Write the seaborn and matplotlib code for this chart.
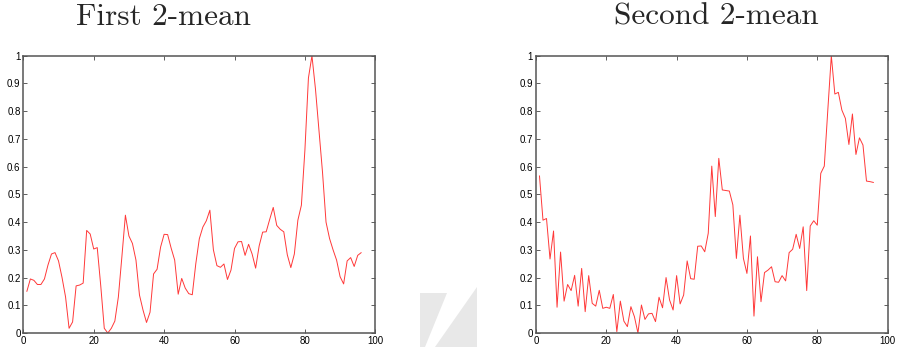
import matplotlib
matplotlib.use('Agg')
import matplotlib.pyplot as plt
from matplotlib.patches import Polygon
import seaborn as sns
import numpy as np

# sample index on the x axis
idx = np.arange(1, 97)

# first 2-mean curve
first_vals = [0.15, 0.195, 0.19, 0.175, 0.175, 0.195, 0.245, 0.285, 0.29, 0.26,
              0.2, 0.13, 0.017, 0.04, 0.17, 0.173, 0.18, 0.37, 0.357, 0.303,
              0.308, 0.17, 0.017, 0.0, 0.017, 0.043, 0.13, 0.275, 0.425, 0.35,
              0.323, 0.263, 0.137, 0.083, 0.038, 0.075, 0.213, 0.23, 0.31, 0.356,
              0.355, 0.306, 0.263, 0.14, 0.197, 0.162, 0.142, 0.138, 0.25, 0.34,
              0.382, 0.405, 0.443, 0.30, 0.243, 0.237, 0.249, 0.193, 0.227, 0.305,
              0.329, 0.33, 0.28, 0.32, 0.285, 0.234, 0.314, 0.364, 0.365, 0.41,
              0.453, 0.388, 0.374, 0.365, 0.282, 0.236, 0.285, 0.407, 0.461, 0.66,
              0.92, 1.0, 0.88, 0.73, 0.58, 0.40, 0.341, 0.30, 0.263, 0.203,
              0.177, 0.26, 0.272, 0.24, 0.28, 0.29]

# second 2-mean curve
second_vals = [0.567, 0.407, 0.413, 0.267, 0.368, 0.093, 0.292, 0.115, 0.175, 0.153,
               0.208, 0.097, 0.233, 0.077, 0.207, 0.107, 0.097, 0.154, 0.089, 0.093,
               0.089, 0.139, 0.005, 0.115, 0.043, 0.023, 0.095, 0.059, 0.0, 0.101,
               0.049, 0.069, 0.071, 0.041, 0.129, 0.091, 0.2, 0.119, 0.083, 0.207,
               0.105, 0.137, 0.26, 0.196, 0.194, 0.313, 0.314, 0.293, 0.36, 0.602,
               0.42, 0.63, 0.516, 0.514, 0.512, 0.462, 0.269, 0.425, 0.269, 0.215,
               0.35, 0.061, 0.275, 0.113, 0.218, 0.227, 0.239, 0.185, 0.183, 0.207,
               0.188, 0.29, 0.302, 0.356, 0.305, 0.383, 0.153, 0.386, 0.405, 0.389,
               0.576, 0.602, 0.804, 1.0, 0.862, 0.868, 0.804, 0.774, 0.68, 0.79,
               0.644, 0.704, 0.678, 0.548, 0.546, 0.543]

titles = ['First 2-mean', 'Second 2-mean']
x_ticks = [0, 20, 40, 60, 80, 100]
y_ticks = [0, 0.1, 0.2, 0.3, 0.4, 0.5, 0.6, 0.7, 0.8, 0.9, 1]
y_labels = ['0', '0.1', '0.2', '0.3', '0.4', '0.5', '0.6', '0.7', '0.8', '0.9', '1']

sns.set_style('ticks')
plt.rcParams['font.family'] = ['Liberation Sans', 'DejaVu Sans']

fig = plt.figure(figsize=(8.97, 3.47), dpi=100)
ax1 = fig.add_axes([0.026, 0.0403, 0.3924, 0.799])
ax2 = fig.add_axes([0.5975, 0.0403, 0.392, 0.799])

for ax, vals in zip([ax1, ax2], [first_vals, second_vals]):
    sns.lineplot(x=idx, y=vals, ax=ax, color='#ff3838', linewidth=0.7)
    ax.set_xlim(0, 100)
    ax.set_ylim(0, 1)
    ax.set_xticks(x_ticks)
    ax.set_xticklabels([str(t) for t in x_ticks])
    ax.set_yticks(y_ticks)
    ax.set_yticklabels(y_labels)
    ax.tick_params(direction='in', top=True, right=True, length=3, width=0.6,
                   labelsize=7, pad=2, colors='#444444', labelcolor='black')
    for s in ax.spines.values():
        s.set_color('#555555')
        s.set_linewidth(1.1)

# titles in a Computer Modern style serif
fig.text(163 / 897, 1 - 17 / 347, titles[0], family='cmr10', fontsize=22.5,
         ha='center', va='center')
fig.text(716 / 897, 1 - 17 / 347, titles[1], family='cmr10', fontsize=22.5,
         ha='center', va='center')

# faint grey page mark between the panels
W, H = 897, 347
left_piece = [(420, 293), (447, 293), (425, 347), (420, 347)]
right_piece = [(477, 287), (477, 347), (435, 347)]
for pts in [left_piece, right_piece]:
    fig.patches.append(Polygon([(px / W, 1 - py / H) for px, py in pts],
                               closed=True, transform=fig.transFigure,
                               facecolor='#e8e8e8', edgecolor='none'))

fig.savefig('out.png', dpi=100)
